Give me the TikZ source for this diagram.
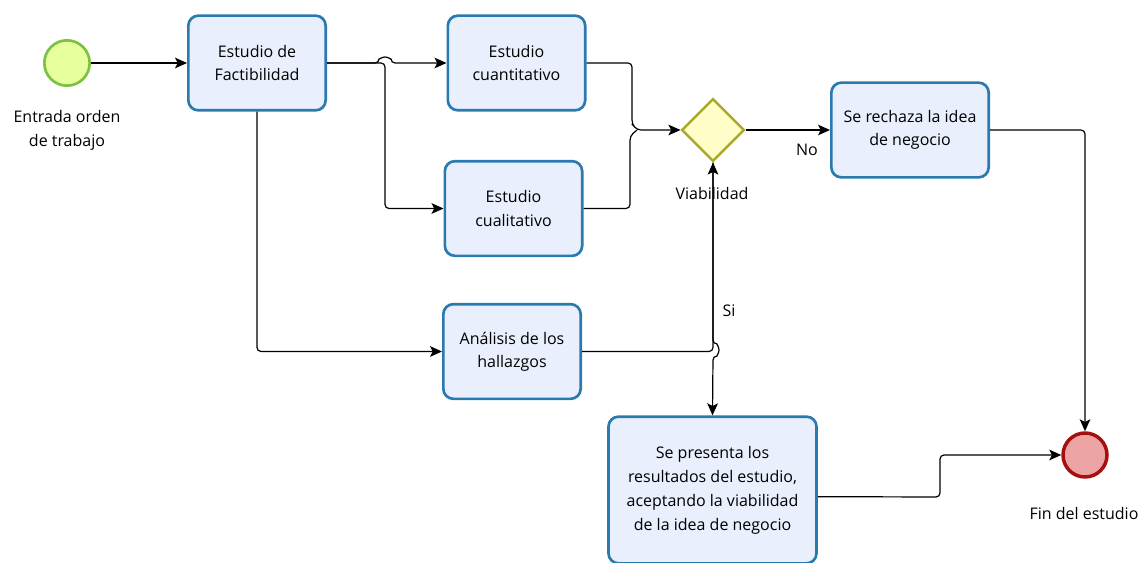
\documentclass[tikz,border=0pt]{standalone}
\usepackage{fontspec}
\setmainfont{Open Sans}
\usepackage{tikz}
\usetikzlibrary{shapes,arrows.meta,positioning}

\definecolor{taskfill}{HTML}{E9EFFC}
\definecolor{taskline}{HTML}{2A7AB0}
\definecolor{gatefill}{HTML}{FFFDC8}
\definecolor{gateline}{HTML}{A9A92B}
\definecolor{startfill}{HTML}{E8FF9E}
\definecolor{startline}{HTML}{7DC142}
\definecolor{endfill}{HTML}{EBA3A3}
\definecolor{endline}{HTML}{A50F0F}

\begin{document}
\begin{tikzpicture}[x=0.75pt,y=-0.75pt,
  task/.style={rectangle,rounded corners=7.5pt,draw=taskline,fill=taskfill,line width=2pt,
    align=center,inner sep=0pt,minimum width=103pt,minimum height=71pt,
    font=\fontsize{12}{17.5}\selectfont},
  gate/.style={diamond,draw=gateline,fill=gatefill,line width=1.8pt,inner sep=0pt,
    minimum width=47pt,minimum height=47pt},
  lbl/.style={align=center,font=\fontsize{12}{18}\selectfont},
  flow/.style={-{Stealth[length=9pt,width=8pt,inset=2pt]},line width=0.9pt,rounded corners=3pt}]

\useasboundingbox (0,0) rectangle (1148,563);

% eventos
\node[circle,draw=startline,fill=startfill,line width=2pt,minimum size=34pt,inner sep=0pt] (entrada) at (67,63) {};
\node[lbl] (entradatxt) at (67,130) {Entrada orden\\de trabajo};
\node[circle,draw=endline,fill=endfill,line width=2.6pt,minimum size=33pt,inner sep=0pt] (fin) at (1085,455) {};
\node[lbl] (fintxt) at (1084,513) {Fin del estudio};

% tareas
\node[task] (fact) at (257,63) {Estudio de\\Factibilidad};
\node[task] (cuant) at (516.5,63) {Estudio\\cuantitativo};
\node[task] (cual) at (513.5,208.5) {Estudio\\cualitativo};
\node[task] (anal) at (512,351.5) {Análisis de los\\hallazgos};
\node[task,minimum width=118pt] (rech) at (910,130) {Se rechaza la idea\\de negocio};
\node[task,minimum width=156pt,minimum height=110pt,font=\fontsize{12}{18}\selectfont] (pres) at (712.5,490) {Se presenta los\\resultados del estudio,\\aceptando la viabilidad\\de la idea de negocio};

\node[gate] (viab) at (713,130) {};
\node[lbl] (viabtxt) at (712,193) {Viabilidad};
\node[lbl] (notxt) at (807,150) {No};
\node[lbl] (sitxt) at (729,311) {Si};

% flujos
\draw[flow] (entrada) -- (fact);
\draw[flow] (fact.east) -- (379,63) arc[start angle=180,end angle=0,radius=4.5pt] -- (cuant.west);
\draw[flow] (fact.east) -- (385,63) -- (385,208.5) -- (cual.west);
\draw[flow] (fact.south) |- (anal.west);
\draw[flow] (cuant.east) -- (632,63) -- (632,124) -- (637,130) -- (viab.west);
\draw[line width=0.9pt,rounded corners=3pt] (cual.east) -- (630,208.5) -- (630,136) -- (637,130);
\draw[flow] (anal.east) -| (viab.south);
\draw[flow] (viab.south) -- (713,344) arc[start angle=90,end angle=-90,radius=4.5pt] -- (pres.north);
\draw[flow] (viab.east) -- (rech.west);
\draw[flow] (rech.east) -| (fin.north);
\draw[flow] ([yshift=-5pt]pres.east) -- (940,497) -- (940,455) -- (fin.west);

\end{tikzpicture}
\end{document}
